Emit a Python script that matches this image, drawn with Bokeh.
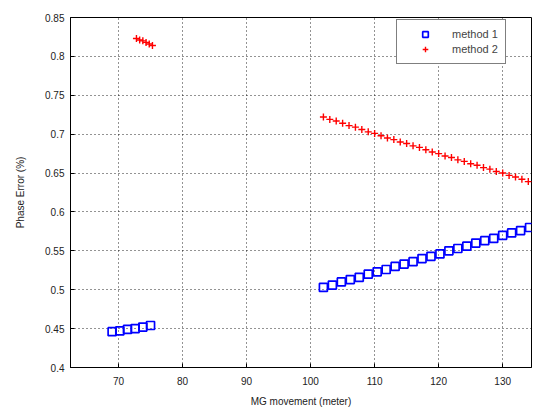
from bokeh.plotting import figure
from bokeh.models import FixedTicker, Legend, LegendItem, Range1d
from bokeh.embed import file_html
from bokeh.resources import INLINE

# ---- data ----
m1_low_x = [69.0, 70.2, 71.4, 72.6, 73.8, 75.0]
m1_low_y = [0.446, 0.447, 0.449, 0.450, 0.452, 0.454]
m1_x = [102.0, 103.4, 104.8, 106.2, 107.6, 109.0, 110.4, 111.8, 113.2, 114.6, 116.0, 117.4,
        118.8, 120.2, 121.6, 123.0, 124.4, 125.8, 127.2, 128.6, 130.0, 131.4, 132.8, 134.2]
m1_y = [0.503, 0.506, 0.510, 0.513, 0.516, 0.520, 0.523, 0.526, 0.530, 0.533, 0.536, 0.540,
        0.543, 0.546, 0.550, 0.553, 0.556, 0.560, 0.563, 0.566, 0.570, 0.573, 0.576, 0.580]
m2_top_x = [72.8, 73.3, 73.8, 74.3, 74.8, 75.3]
m2_top_y = [0.823, 0.821, 0.820, 0.818, 0.816, 0.814]
m2_x = [102, 103, 104, 105, 106, 107, 108, 109, 110, 111, 112, 113, 114, 115, 116, 117, 118,
        119, 120, 121, 122, 123, 124, 125, 126, 127, 128, 129, 130, 131, 132, 133, 134]
m2_y = [0.722, 0.719, 0.717, 0.714, 0.711, 0.709, 0.706, 0.703, 0.701, 0.698, 0.695, 0.693,
        0.690, 0.688, 0.685, 0.683, 0.680, 0.677, 0.675, 0.672, 0.670, 0.667, 0.665, 0.662,
        0.660, 0.657, 0.655, 0.652, 0.650, 0.647, 0.645, 0.642, 0.639]
x_ticks = [70, 80, 90, 100, 110, 120, 130]
y_ticks = [0.4, 0.45, 0.5, 0.55, 0.6, 0.65, 0.7, 0.75, 0.8, 0.85]
y_tick_labels = ["0.4", "0.45", "0.5", "0.55", "0.6", "0.65", "0.7", "0.75", "0.8", "0.85"]
series_names = ["method 1", "method 2"]
x_label = "MG movement (meter)"
y_label = "Phase Error (%)"

FONT = "Liberation Sans"

p = figure(width=534, height=409, output_backend="svg", toolbar_location=None,
           x_range=Range1d(62.5, 134.5), y_range=Range1d(0.4, 0.85),
           min_border_left=70, min_border_right=3, min_border_top=17, min_border_bottom=42)
p.background_fill_color = "white"
p.border_fill_color = "white"
p.outline_line_color = "black"
p.outline_line_width = 1

r1a = p.scatter(m1_low_x, m1_low_y, marker="square", size=8, fill_color=None,
                line_color="#0000ff", line_width=1.7)
r1b = p.scatter(m1_x, m1_y, marker="square", size=8, fill_color=None,
                line_color="#0000ff", line_width=1.7)
r2a = p.scatter(m2_top_x, m2_top_y, marker="cross", size=7, line_color="#ff0000", line_width=1.4)
r2b = p.scatter(m2_x, m2_y, marker="cross", size=7, line_color="#ff0000", line_width=1.4)

for ax in (p.xaxis, p.yaxis):
    ax.major_tick_in = 4
    ax.major_tick_out = 0
    ax.minor_tick_line_color = None
    ax.axis_line_color = "black"
    ax.major_tick_line_color = "black"
    ax.major_label_text_font = FONT
    ax.major_label_text_font_size = "10px"
    ax.major_label_text_color = "#222222"
    ax.axis_label_text_font = FONT
    ax.axis_label_text_font_size = "10px"
    ax.axis_label_text_font_style = "normal"
    ax.axis_label_text_color = "#222222"

p.xaxis.ticker = FixedTicker(ticks=x_ticks)
p.yaxis.ticker = FixedTicker(ticks=y_ticks)
p.yaxis.major_label_overrides = {t: s for t, s in zip(y_ticks, y_tick_labels)}
p.xaxis.axis_label = x_label
p.yaxis.axis_label = y_label
p.xaxis.major_label_standoff = 9
p.yaxis.major_label_standoff = 6
p.xaxis.axis_label_standoff = 8
p.yaxis.axis_label_standoff = 16

for g in (p.xgrid, p.ygrid):
    g.grid_line_color = "black"
    g.grid_line_alpha = 0.85
    g.grid_line_dash = "1 3"
    g.grid_line_width = 1

legend = Legend(items=[LegendItem(label=series_names[0], renderers=[r1b]),
                       LegendItem(label=series_names[1], renderers=[r2b])],
                location=(326, 303))
legend.margin = 0
legend.padding = 7
legend.spacing = 1
legend.label_text_font = FONT
legend.label_text_font_size = "11px"
legend.label_height = 14
legend.glyph_height = 14
legend.glyph_width = 42
legend.label_standoff = 6
legend.border_line_color = "black"
legend.border_line_width = 1
legend.background_fill_color = "white"
legend.background_fill_alpha = 1
p.add_layout(legend)

open("out.html", "w").write(file_html(p, INLINE))
